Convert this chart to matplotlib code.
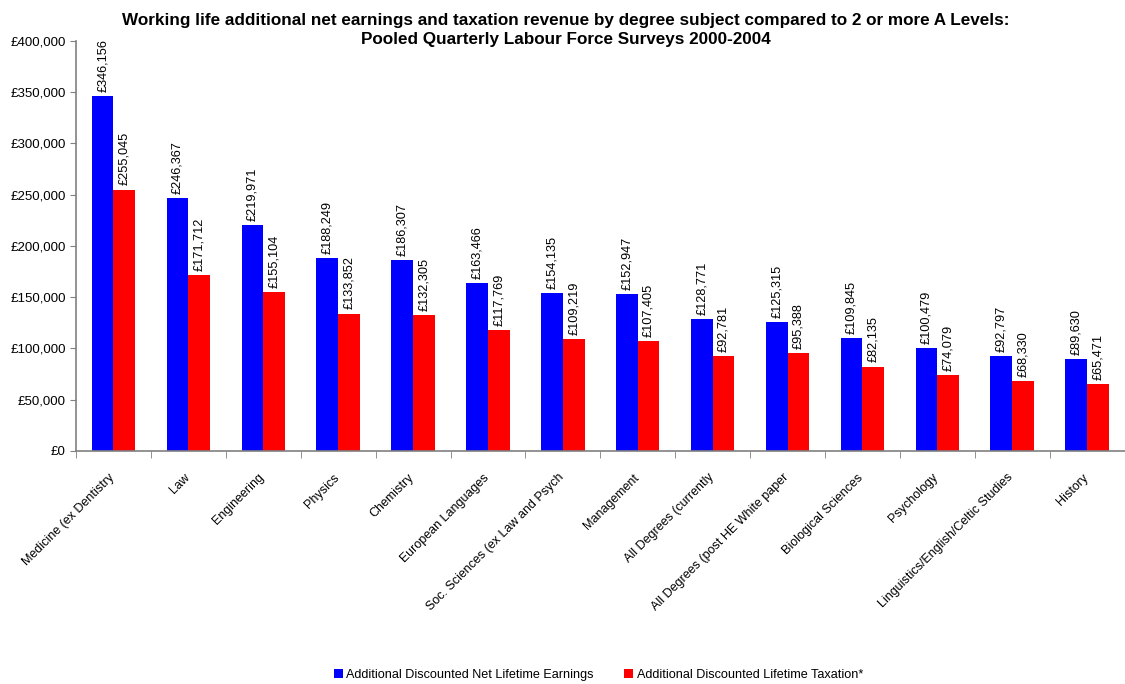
import numpy as np
import matplotlib.pyplot as plt
import matplotlib.transforms as mtransforms
from matplotlib.ticker import FuncFormatter

plt.rcParams['font.family'] = ['Liberation Sans', 'DejaVu Sans']

subjects = ["Medicine (ex Dentistry", "Law", "Engineering", "Physics", "Chemistry",
            "European Languages", "Soc. Sciences (ex Law and Psych", "Management",
            "All Degrees (currently", "All Degrees (post HE White paper",
            "Biological Sciences", "Psychology", "Linguistics/English/Celtic Studies",
            "History"]
net_earnings = [346156, 246367, 219971, 188249, 186307, 163466, 154135, 152947,
                128771, 125315, 109845, 100479, 92797, 89630]
taxation = [255045, 171712, 155104, 133852, 132305, 117769, 109219, 107405,
            92781, 95388, 82135, 74079, 68330, 65471]

fig = plt.figure(figsize=(11.25, 6.84), dpi=100)
ax = fig.add_axes([0.0676, 0.341, 0.932, 0.599])

x = np.arange(len(subjects))
w = 0.29
b1 = ax.bar(x - 0.145, net_earnings, w, color='#0000FF',
            label='Additional Discounted Net Lifetime Earnings')
b2 = ax.bar(x + 0.145, taxation, w, color='#FF0000',
            label='Additional Discounted Lifetime Taxation*')

# value labels, rotated, sitting on top of each bar
for bars, vals in ((b1, net_earnings), (b2, taxation)):
    for r, v in zip(bars, vals):
        ax.annotate('£{:,}'.format(v), (r.get_x() + r.get_width() / 2, v),
                    xytext=(0, 3), textcoords='offset points',
                    rotation=90, ha='center', va='bottom', fontsize=9.2)

ax.set_xlim(-0.5, len(subjects) - 0.5)
ax.set_ylim(0, 400000)
ax.set_yticks(np.arange(0, 400001, 50000))
ax.yaxis.set_major_formatter(FuncFormatter(lambda v, p: '£{:,.0f}'.format(v)))
ax.tick_params(axis='y', labelsize=9.5, length=4, color='#808080')

ax.set_xticks(x)
ax.set_xticklabels(subjects, rotation=45, ha='right', rotation_mode='anchor', fontsize=9)
ax.tick_params(axis='x', which='major', length=0, pad=15)
# nudge the slanted category names a little to the left
shift = mtransforms.ScaledTranslation(-0.05, 0, fig.dpi_scale_trans)
for lbl in ax.get_xticklabels():
    lbl.set_transform(lbl.get_transform() + shift)
ax.set_xticks(np.arange(-0.5, len(subjects), 1), minor=True)
ax.tick_params(axis='x', which='minor', length=5, color='#808080')

for s in ('top', 'right'):
    ax.spines[s].set_visible(False)
for s in ('left', 'bottom'):
    ax.spines[s].set_color('#808080')
    ax.spines[s].set_linewidth(1.2)

fig.text(0.503, 0.981, 'Working life additional net earnings and taxation revenue by degree subject compared to 2 or more A Levels:\n'
         'Pooled Quarterly Labour Force Surveys 2000-2004',
         ha='center', va='top', fontsize=12.3, fontweight='bold', linespacing=1.3)

fig.legend(loc='center', bbox_to_anchor=(0.532, 0.013), ncol=2, frameon=False,
           fontsize=9.1, handlelength=0.7, handleheight=0.7, handletextpad=0.3,
           columnspacing=2.4)

fig.savefig('out.png', dpi=100)
